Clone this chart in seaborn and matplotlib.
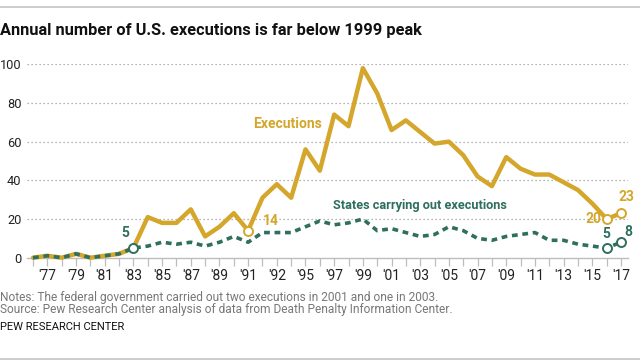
import matplotlib
matplotlib.use("Agg")
import matplotlib.pyplot as plt
from matplotlib import font_manager
import seaborn as sns
import pandas as pd

years = list(range(1976, 2018))
executions = [0, 1, 0, 2, 0, 1, 2, 5, 21, 18, 18, 25, 11, 16, 23, 14, 31, 38, 31, 56,
              45, 74, 68, 98, 85, 66, 71, 65, 59, 60, 53, 42, 37, 52, 46, 43, 43, 39,
              35, 28, 20, 23]
states = [0, 1, 0, 2, 0, 1, 2, 5, 6, 8, 7, 8, 6, 8, 11, 8, 13, 13, 13, 16,
          19, 17, 18, 20, 14, 15, 13, 11, 12, 16, 14, 10, 9, 11, 12, 13, 9, 9,
          7, 6, 5, 8]
tick_years = list(range(1977, 2018, 2))
tick_labels = ["'77", "'79", "'81", "'83", "'85", "'87", "'89", "'91", "'92", "'95", "'97",
               "'99", "'01", "'03", "'05", "'07", "'09", "'11", "'13", "'15", "'17"]

names = {f.name for f in font_manager.fontManager.ttflist}
narrow = "Liberation Sans Narrow" if "Liberation Sans Narrow" in names else "Roboto"

sns.set_style("white")
plt.rcParams["font.family"] = [narrow, "DejaVu Sans"]

GOLD = "#d4a72c"
GREEN = "#2f6f5e"
GRID = "#9a9a9a"

df = pd.DataFrame({"year": years, "executions": executions, "states": states})

fig = plt.figure(figsize=(6.4, 3.63), dpi=100)
ax = fig.add_axes([27/640, 1-257.7/363, (628-27)/640, (257.7-64.3)/363])

sns.lineplot(data=df, x="year", y="executions", ax=ax, color=GOLD, linewidth=3.2,
             clip_on=False, zorder=3)
sns.lineplot(data=df, x="year", y="states", ax=ax, color=GREEN, linewidth=2.6,
             linestyle=(0, (1.6, 1.3)), clip_on=False, zorder=4)

def mark(yr, val, color):
    ax.scatter([yr], [val], s=42, facecolor="white", edgecolor=color, linewidth=1.4,
               zorder=6, clip_on=False)

mark(1991, executions[years.index(1991)], GOLD)
mark(2016, executions[years.index(2016)], GOLD)
mark(2017, executions[years.index(2017)], GOLD)
mark(1983, states[years.index(1983)], GREEN)
mark(2016, states[years.index(2016)], GREEN)
mark(2017, states[years.index(2017)], GREEN)

ax.set_xlim(1975.58, 2017.49)
ax.set_ylim(0, 100)
ax.set_yticks([0, 20, 40, 60, 80, 100])
ax.set_xticks(years, minor=True)
ax.set_xticks(tick_years)
ax.set_xticklabels(tick_labels)
ax.set_xlabel("")
ax.set_ylabel("")
for s in ["top", "right", "left"]:
    ax.spines[s].set_visible(False)
ax.spines["bottom"].set_color("#bdbdbd")
ax.spines["bottom"].set_linewidth(1.0)
ax.spines["bottom"].set_zorder(1)
for y in [20, 40, 60, 80, 100]:
    ax.axhline(y, color=GRID, linewidth=0.9, linestyle=(0, (1, 2.2)), zorder=1)
ax.tick_params(axis="x", which="both", length=6, color="#bdbdbd", width=0.9,
               labelsize=10, pad=2, labelcolor="#222222", direction="out", bottom=True)
ax.tick_params(axis="y", length=0, labelsize=9.2, pad=4, labelcolor="#222222")

bold = dict(fontweight="bold", fontsize=10)
ax.text(1996.15, 69.1, "Executions", color=GOLD, ha="right", va="center", **bold)
ax.text(1996.9, 27.0, "States carrying out executions", color=GREEN, ha="left", va="center",
        fontweight="bold", fontsize=9.2)
ax.text(1982.4, 12.7, "5", color=GREEN, ha="center", va="center", **bold)
ax.text(1992.0, 19.0, "14", color=GOLD, ha="left", va="center", **bold)
ax.text(2015.6, 19.8, "20", color=GOLD, ha="right", va="center", **bold)
ax.text(2017.4, 31.5, "23", color=GOLD, ha="center", va="center", **bold)
ax.text(2016.0, 12.2, "5", color=GREEN, ha="center", va="center", **bold)
ax.text(2017.5, 13.3, "8", color=GREEN, ha="center", va="center", **bold)

fig.text(0.0, 1-30/363, "Annual number of U.S. executions is far below 1999 peak",
         fontsize=11.8, fontweight="bold", color="#111111", ha="left", va="center")
fig.text(0.0, 1-297/363, "Notes: The federal government carried out two executions in 2001 and one in 2003.",
         fontsize=8.6, color="#777777", ha="left", va="center")
fig.text(0.0, 1-309/363, "Source: Pew Research Center analysis of data from Death Penalty Information Center.",
         fontsize=8.6, color="#777777", ha="left", va="center")
fig.text(0.0, 1-327/363, "PEW RESEARCH CENTER", fontsize=8, color="#111111", ha="left", va="center")

fig.add_artist(plt.Line2D([0, 1], [1-7/363, 1-7/363], color="#c4c4c4", linewidth=1.2))
fig.add_artist(plt.Line2D([0, 1], [1-359/363, 1-359/363], color="#c4c4c4", linewidth=1.2))

fig.savefig("out.png", dpi=100)
